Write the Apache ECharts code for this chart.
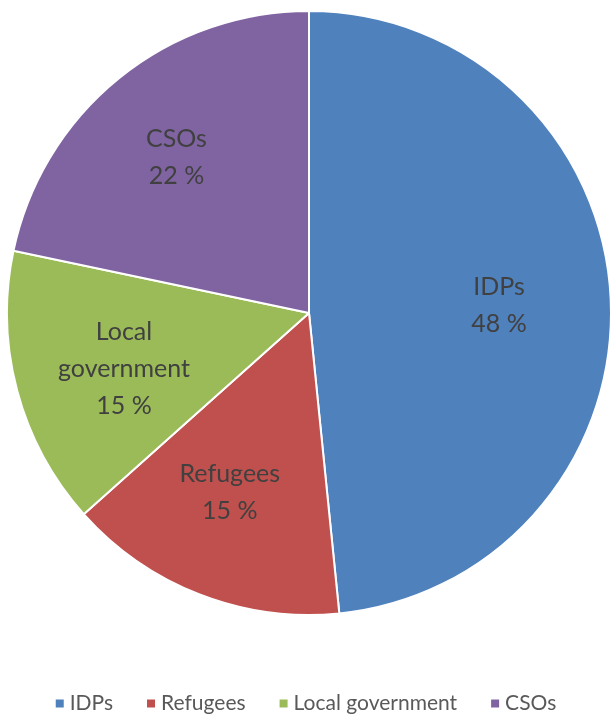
<!DOCTYPE html>
<html>
<head>
<meta charset="utf-8">
<script src="https://cdn.jsdelivr.net/npm/echarts@6/dist/echarts.min.js"></script>
<style>
html,body{margin:0;padding:0;background:#fff;}
#chart{width:610px;height:717px;}
</style>
</head>
<body>
<div id="chart"></div>
<script>
const categories = ['IDPs', 'Refugees', 'Local government', 'CSOs'];
const shares = [48.4, 15.0, 14.9, 21.7];
const colors = ['#4F81BD', '#C0504D', '#9BBB59', '#8064A2'];
const labelNames = ['IDPs', 'Refugees', 'Local\ngovernment', 'CSOs'];

const cx = 309, cy = 313, R = 302;
const labelFactor = 0.62 / 0.5;

const chart = echarts.init(document.getElementById('chart'), null, {renderer: 'canvas'});
chart.setOption({
  animation: false,
  color: colors,
  textStyle: {fontFamily: 'Lato, "Open Sans", sans-serif'},
  legend: {
    bottom: -2,
    left: 'center',
    icon: 'rect',
    itemWidth: 10,
    itemHeight: 10,
    itemGap: 32,
    textStyle: {fontSize: 21, color: '#595959', fontFamily: 'Lato, "Open Sans", sans-serif'},
    data: categories
  },
  series: [{
    type: 'pie',
    center: [cx, cy],
    radius: [0, R],
    startAngle: 90,
    clockwise: true,
    avoidLabelOverlap: false,
    itemStyle: {borderColor: '#fff', borderWidth: 2},
    label: {
      show: true,
      position: 'inside',
      color: '#404040',
      fontSize: 25,
      lineHeight: 37,
      fontFamily: 'Lato, "Open Sans", sans-serif',
      formatter: p => labelNames[p.dataIndex] + '\n' + Math.round(p.value) + ' %'
    },
    labelLayout: function (params) {
      const r = params.rect;
      const lx = r.x + r.width / 2, ly = r.y + r.height / 2;
      return {dx: (lx - cx) * (labelFactor - 1), dy: (ly - cy) * (labelFactor - 1)};
    },
    emphasis: {disabled: true},
    data: categories.map((c, i) => ({name: c, value: shares[i]}))
  }]
});
</script>
</body>
</html>
